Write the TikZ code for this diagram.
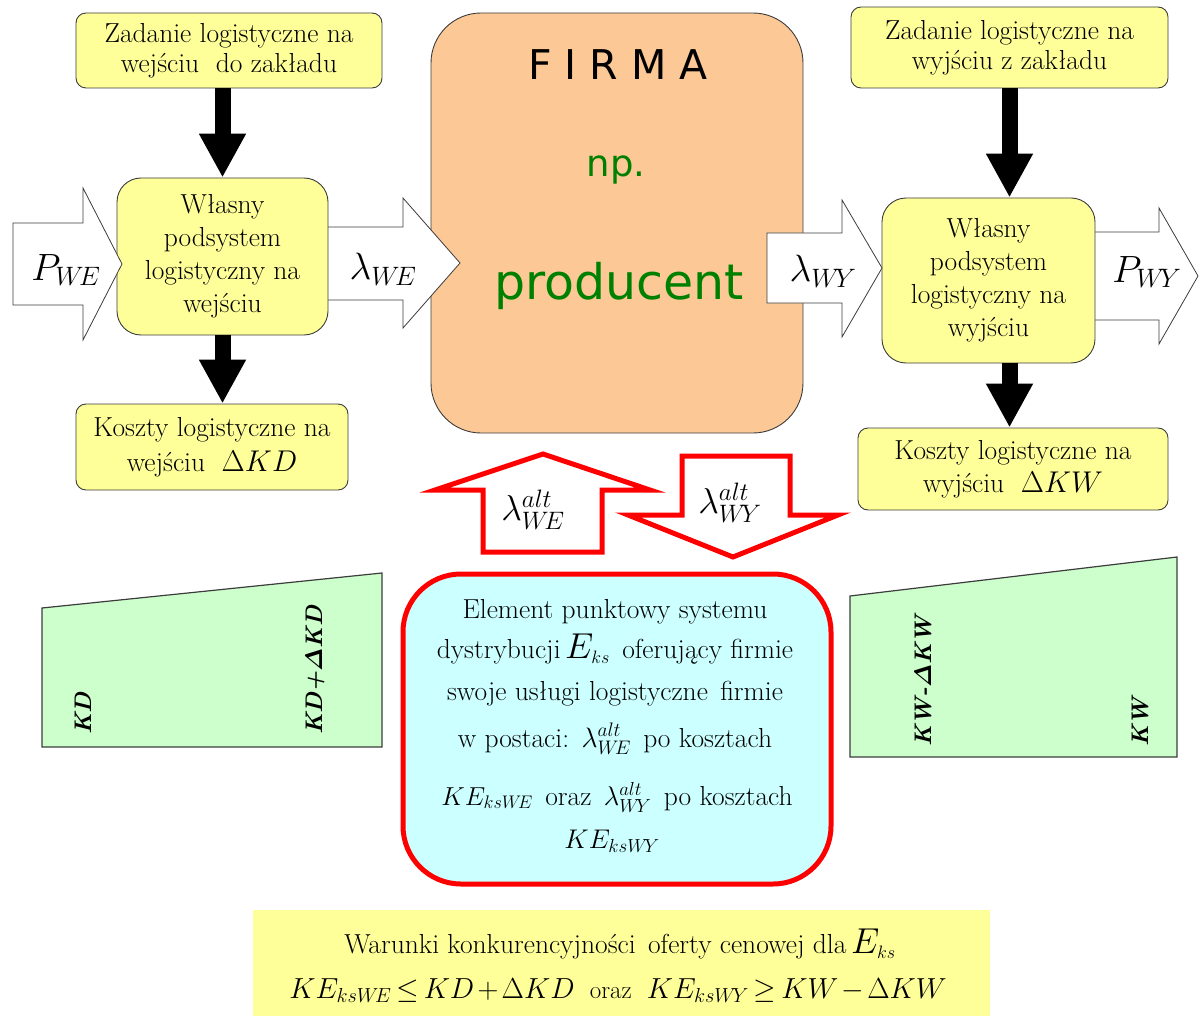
\RequirePackage{fix-cm}
\documentclass[tikz,border=0pt]{standalone}
\usepackage{amsmath,bm}
\usepackage{fontspec}
\newfontfamily\firmafont{DejaVu Sans}
\usetikzlibrary{arrows.meta}

\definecolor{boxyellow}{RGB}{255,255,153}
\definecolor{firmaorange}{RGB}{252,200,150}
\definecolor{boxcyan}{RGB}{204,255,255}
\definecolor{trapgreen}{RGB}{204,255,204}
\definecolor{edgegray}{RGB}{60,60,60}
\definecolor{prodgreen}{RGB}{0,128,0}
\definecolor{offerred}{RGB}{255,0,0}

\newcommand{\fs}[1]{\fontsize{#1}{#1}\selectfont}
\newcommand{\tightmath}{\thickmuskip=3mu\medmuskip=2mu}
\newcommand{\gap}{\hspace{0.45em}}

\tikzset{
  ybox/.style={draw=edgegray, line width=0.9pt, fill=boxyellow, rounded corners=10pt,
    inner sep=0pt, align=center, font=\fontsize{27.5}{30}\selectfont},
  wbox/.style={ybox, rounded corners=24pt, font=\fontsize{27.5}{33}\selectfont},
  blockarrow/.style={draw=edgegray, line width=0.8pt, fill=white, line join=miter},
  heavyarrow/.style={line width=16pt, -{Triangle[width=44pt,length=44pt]}},
  redarrow/.style={draw=offerred, line width=5pt, fill=white, line join=miter},
  trap/.style={draw=edgegray, line width=1.2pt, fill=trapgreen},
  traplabel/.style={rotate=90, anchor=west, inner sep=0pt, font=\fs{24}\bfseries\itshape},
  biglabel/.style={inner sep=0pt, font=\fs{38}},
  bluetext/.style={anchor=base, inner sep=0pt, font=\fs{27.5}},
}

\begin{document}
\begin{tikzpicture}[x=1pt,y=-1pt]
\useasboundingbox (0,0) rectangle (1199,1016);

% ---------- FIRMA ----------
\node[draw=edgegray, line width=0.9pt, fill=firmaorange, rounded corners=50pt,
      minimum width=372pt, minimum height=420pt] (firma) at (617,223) {};
\node[anchor=base, inner sep=0pt, font=\firmafont\fs{41}] (firmaT) at (618,80) {F I R M A};
\node[anchor=base, inner sep=0pt, font=\firmafont\fs{37}, text=prodgreen] (npT) at (616,177) {np.};
\node[anchor=base, inner sep=0pt, font=\firmafont\fs{49}, text=prodgreen] (prodT) at (619,300) {producent};

% ---------- block arrow into FIRMA ----------
\draw[blockarrow] (320,227) -- (403,227) -- (403,198) -- (460,263) -- (403,328) -- (403,300) -- (320,300) -- cycle;

% ---------- left column ----------
\node[ybox, minimum width=306pt, minimum height=75pt] (zl) at (229,50.5)
  {Zadanie logistyczne na\\wejściu\ \ do zakładu};
\node[wbox, minimum width=211pt, minimum height=157pt] (wl) at (222.5,256.5)
  {Własny\\podsystem\\logistyczny na\\wejściu};
\node[ybox, minimum width=272pt, minimum height=86pt, font=\fontsize{27.5}{35}\selectfont] (kl) at (212,447)
  {Koszty logistyczne na\\wejściu\ \ {\fs{30}$\Delta KD$}};

\draw[blockarrow] (13,223) -- (83,223) -- (83,188) -- (122,264) -- (83,340) -- (83,305) -- (13,305) -- cycle;
\node[biglabel] (pwe) at (66,270) {$P_{W\!E}$};
\node[biglabel] (lwe) at (383,269) {$\lambda_{W\!E}$};

\draw[heavyarrow] (wl.north |- zl.south) -- (wl.north);
\draw[heavyarrow] (wl.south) -- (wl.south |- kl.north);

% ---------- right column ----------
\draw[blockarrow] (1090,232) -- (1159,232) -- (1159,208) -- (1198,276) -- (1159,344) -- (1159,320) -- (1090,320) -- cycle;
\node[ybox, minimum width=317pt, minimum height=81pt] (zr) at (1009.5,47.5)
  {Zadanie logistyczne na\\wyjściu z zakładu};
\node[wbox, minimum width=213pt, minimum height=165pt] (wr) at (988.5,280.5)
  {Własny\\podsystem\\logistyczny na\\wyjściu};
\node[ybox, minimum width=310pt, minimum height=82pt, font=\fontsize{27.5}{33}\selectfont] (kr) at (1013,469)
  {Koszty logistyczne na\\wyjściu\ \ {\fs{30}$\Delta KW$}};

\draw[blockarrow] (767,233) -- (842,233) -- (842,200) -- (882,268) -- (842,337) -- (842,303) -- (767,303) -- cycle;
\node[biglabel] (lwy) at (823,271) {$\lambda_{W\!Y}$};
\node[biglabel] (pwy) at (1147,272) {$P_{W\!Y}$};

\draw[heavyarrow] (zr.south) -- (zr.south |- wr.north);
\draw[heavyarrow] (zr.south |- wr.south) -- (zr.south |- kr.north);

% ---------- red arrows ----------
\draw[redarrow] (483,552) -- (483,490) -- (435,490) -- (543,454) -- (650,490) -- (602,490) -- (602,552) -- cycle;
\draw[redarrow] (682,456) -- (790,456) -- (790,515) -- (838,515) -- (733,557) -- (628,515) -- (682,515) -- cycle;
\node[biglabel, font=\fs{36}] (altwe) at (533,510) {$\lambda^{alt}_{W\!E}$};
\node[biglabel, font=\fs{36}] (altwy) at (730,503) {$\lambda^{alt}_{W\!Y}$};

% ---------- trapezoids ----------
\draw[trap] (42,608) -- (382,573) -- (382,747) -- (42,747) -- cycle;
\node[traplabel] (kd) at (83,735) {KD};
\node[traplabel] (kdd) at (315,735) {KD+$\bm{\varDelta}$KD};
\draw[trap] (850,596) -- (1177,557) -- (1177,757) -- (850,757) -- cycle;
\node[traplabel] (kwd) at (923,747) {KW-$\bm{\varDelta}$KW};
\node[traplabel] (kw) at (1140,747) {KW};

% ---------- offer box ----------
\node[draw=offerred, line width=5pt, fill=boxcyan, rounded corners=58pt,
      minimum width=428pt, minimum height=310pt] (offer) at (617,729) {};
\node[bluetext] (o1) at (615,618) {Element punktowy systemu};
\node[bluetext] (o2) at (615,658) {dystrybucji\,{\fs{36}$E_{\scriptscriptstyle ks}$}\gap oferujący firmie};
\node[bluetext] (o3) at (615,700) {swoje usługi logistyczne\gap firmie};
\node[bluetext] (o4) at (615,747) {w postaci:\gap{\fs{28}$\lambda^{alt}_{W\!E}$}\gap po kosztach};
\node[bluetext] (o5) at (617,805) {{\fs{26}$KE_{ksW\!E}$}\gap oraz\gap{\fs{27}$\lambda^{alt}_{W\!Y}$}\gap po kosztach};
\node[bluetext] (o6) at (612,848) {{\fs{27}$KE_{ksW\!Y}$}};

% ---------- conditions ----------
\path[fill=boxyellow] (253,910) rectangle (990,1016);
\node[anchor=base, inner sep=0pt, font=\fs{27.5}] (c1) at (620,953)
  {Warunki konkurencyjności\gap oferty cenowej dla\,{\fs{36}$E_{\scriptscriptstyle ks}$}};
\node[anchor=base, inner sep=0pt, font=\fs{25}] (c2) at (618,998)
  {{\fs{29}\tightmath$KE_{ksW\!E}\le KD+\Delta KD$}\ \ oraz\ \ {\fs{29}\tightmath$KE_{ksW\!Y}\ge KW-\Delta KW$}};
\end{tikzpicture}
\end{document}
